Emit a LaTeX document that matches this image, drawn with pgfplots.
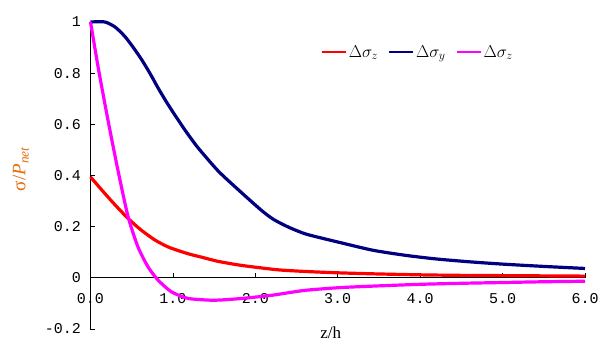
\documentclass[border=0pt]{standalone}
\usepackage{fontspec}
\setmainfont{Liberation Serif}
\newfontfamily\tickfont{Liberation Mono}
\usepackage{pgfplots}
\pgfplotsset{compat=1.18}
\definecolor{ylab}{HTML}{E46C0A}
\definecolor{navyc}{HTML}{000080}
\definecolor{magc}{HTML}{FF00FF}
\begin{document}
\begin{tikzpicture}
\path[use as bounding box] (-90.5bp,-24.2bp) rectangle (509.5bp,328.8bp);
\begin{axis}[
  at={(0,0)}, anchor=south west,
  scale only axis, width=494.5bp, height=306.8bp,
  xmin=0, xmax=6, ymin=-0.2, ymax=1,
  axis x line=middle, axis y line=left,
  axis line style={-, black, line width=0.6pt},
  clip=false,
  xtick={0,1,2,3,4,5,6},
  xticklabels={0.0,1.0,2.0,3.0,4.0,5.0,6.0},
  ytick={-0.2,0,0.2,0.4,0.6,0.8,1},
  yticklabels={-0.2,0,0.2,0.4,0.6,0.8,1},
  tick align=inside,
  major tick length=5bp,
  tick style={black, line width=0.6pt},
  ticklabel style={font=\tickfont\fontsize{15bp}{17bp}\selectfont},
  xticklabel style={yshift=-12bp},
  yticklabel style={xshift=-6bp},
  hide obscured x ticks=false,
  xlabel={z/h},
  xlabel style={font=\fontsize{17bp}{19bp}\selectfont, at={(axis description cs:0.486,-0.0137)}, anchor=center},
  legend columns=3,
  legend style={draw=none, fill=none, at={(axis description cs:0.662,0.902)}, anchor=center,
    font=\fontsize{18bp}{20bp}\selectfont, /tikz/every even column/.append style={column sep=8bp}},
  legend image code/.code={\draw[#1, line width=2pt] (0bp,0bp) -- (24bp,0bp);},
  every axis plot/.append style={line width=3.2bp, smooth, tension=0.4},
]
\addplot[red] coordinates {
(0,0.394) (0.15,0.338) (0.3,0.284) (0.455,0.232) (0.6,0.19) (0.778,0.148)
(0.95,0.119) (1.18,0.094) (1.35,0.080) (1.545,0.064) (1.81,0.049)
(2.075,0.038) (2.3,0.030) (2.62,0.024) (3.0,0.019) (3.43,0.015) (4.0,0.011)
(4.5,0.009) (5.0,0.008) (5.5,0.007) (6.0,0.006)};
\addlegendentry{$\Delta\sigma_z$}
\addplot[navyc] coordinates {
(0,1.0) (0.175,1.0) (0.3,0.98) (0.418,0.943) (0.52,0.90) (0.62,0.853) (0.72,0.80)
(0.82,0.742) (0.92,0.688) (1.02,0.638) (1.145,0.578) (1.3,0.51) (1.55,0.417)
(1.81,0.339) (2.075,0.263) (2.22,0.228) (2.4,0.198) (2.62,0.170) (3.02,0.138)
(3.43,0.107) (3.83,0.087) (4.2,0.073) (4.6,0.062) (5.0,0.053) (5.5,0.044) (6.0,0.036)};
\addlegendentry{$\Delta\sigma_y$}
\addplot[magc] coordinates {
(0,1.0) (0.1,0.81) (0.212,0.616) (0.333,0.42) (0.455,0.24) (0.576,0.12) (0.697,0.043)
(0.818,-0.009) (0.98,-0.055) (1.18,-0.081) (1.45,-0.088) (1.6,-0.087) (1.81,-0.082)
(2.0,-0.076) (2.22,-0.068) (2.42,-0.058) (2.62,-0.049) (3.02,-0.039) (3.43,-0.033)
(4.0,-0.026) (4.5,-0.022) (5.0,-0.019) (5.5,-0.016) (6.0,-0.014)};
\addlegendentry{$\Delta\sigma_z$}
\node[rotate=90, anchor=center, font=\fontsize{19bp}{21bp}\selectfont, text=ylab]
  at (axis description cs:-0.141,0.521) {σ/\textit{P}\textsubscript{\textit{net}}};
\end{axis}
\end{tikzpicture}
\end{document}
